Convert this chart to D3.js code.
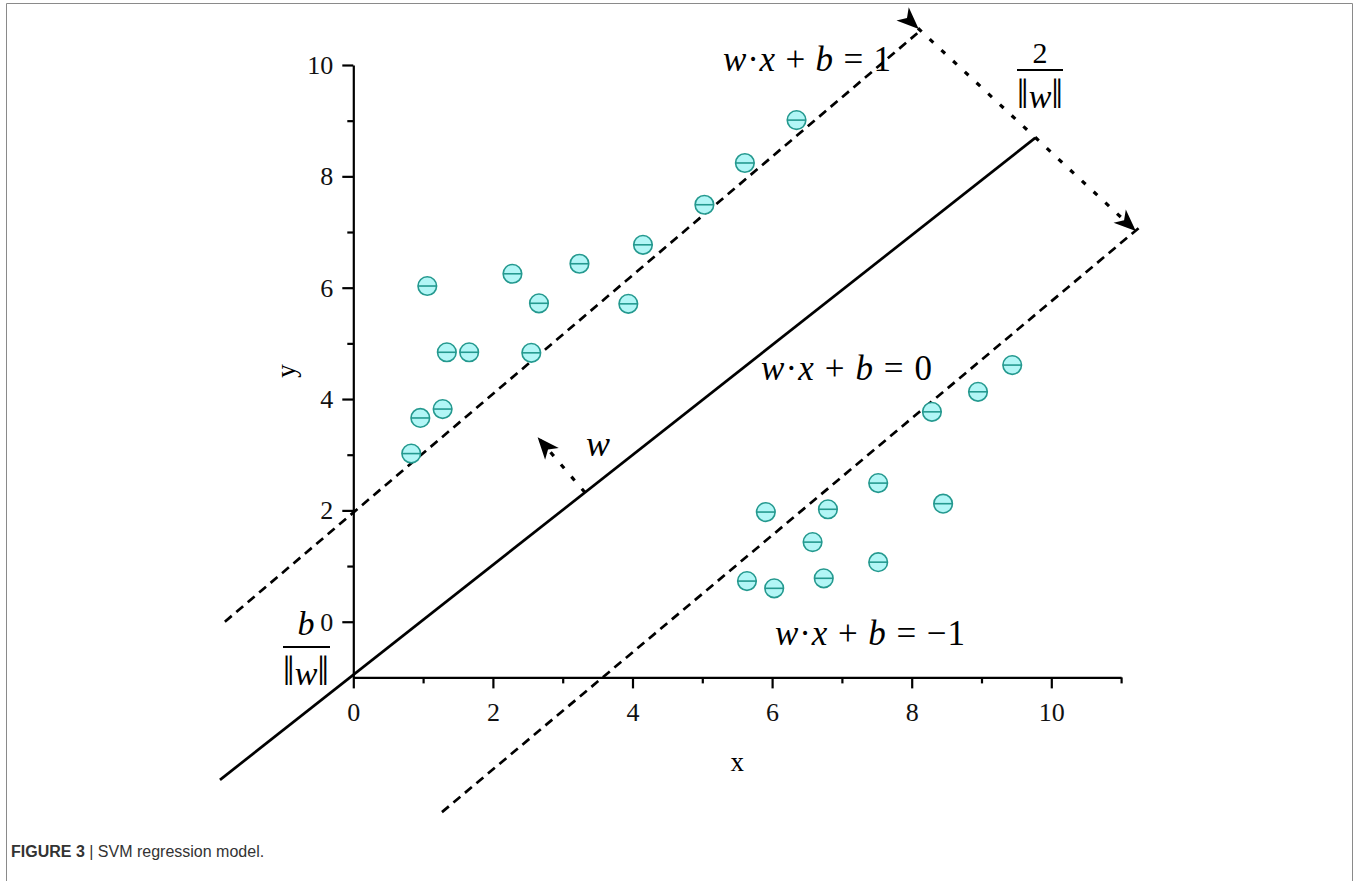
<!DOCTYPE html>
<html>
<head>
<meta charset="utf-8">
<script src="https://cdn.jsdelivr.net/npm/d3@7"></script>
<style>
  body { margin: 0; background: #fff; }
  svg { display: block; }
</style>
</head>
<body>
<script>
// SVM figure: two classes of points and the three hyperplanes

// class +1 (upper left)
var upperX = [0.83, 0.96, 1.28, 1.34, 1.66, 1.06, 2.28, 2.66, 2.55, 3.24, 3.94, 4.15, 5.03, 5.61, 6.35];
var upperY = [3.02, 3.66, 3.82, 4.84, 4.84, 6.03, 6.25, 5.72, 4.83, 6.43, 5.71, 6.77, 7.49, 8.24, 9.01];

// class -1 (lower right)
var lowerX = [5.64, 6.03, 5.91, 6.58, 6.74, 6.80, 7.52, 7.52, 8.45, 8.29, 8.95, 9.44];
var lowerY = [0.73, 0.60, 1.97, 1.43, 0.78, 2.02, 2.49, 1.07, 2.12, 3.77, 4.13, 4.61];

// hyperplanes, endpoints in data units [x0, y0, x1, y1]
var planeMid   = [-1.91, -2.84, 9.77, 8.69];   // w.x+b=0
var planeUpper = [-1.84, 0.0, 8.08, 10.57];    // w.x+b=1
var planeLower = [1.27, -3.42, 11.27, 7.09];   // w.x+b=-1

// arrows [x0, y0, x1, y1]
var marginArrow = [8.09, 10.66, 11.20, 7.03];
var normalArrow = [3.32, 2.32, 2.65, 3.30];

var xMajor = [0, 2, 4, 6, 8, 10];
var xMinor = [1, 3, 5, 7, 9, 11];
var yMajor = [0, 2, 4, 6, 8, 10];
var yMinor = [1, 3, 5, 7, 9];

var W = 1358, H = 881;
var serif = "'Liberation Serif', 'Times New Roman', serif";

var svg = d3.select("body").append("svg")
  .attr("width", W)
  .attr("height", H);

// frame round the figure
svg.append("path")
  .attr("d", "M6.5,900 L6.5,3.5 L1352.5,3.5 L1352.5,900")
  .attr("fill", "none")
  .attr("stroke", "#8a8a8a")
  .attr("stroke-width", 1);

var x = d3.scaleLinear().domain([0, 11]).range([353.3, 1121.1]);
var y = d3.scaleLinear().domain([-1, 10]).range([677.4, 65]);

var defs = svg.append("defs");
defs.append("marker")
  .attr("id", "head")
  .attr("markerUnits", "userSpaceOnUse")
  .attr("viewBox", "-24 -12 26 24")
  .attr("refX", 0).attr("refY", 0)
  .attr("markerWidth", 26).attr("markerHeight", 24)
  .attr("orient", "auto")
  .append("path")
  .attr("d", "M1,0 L-21,-9 L-15,0 L-21,9 Z")
  .attr("fill", "#000");

// axes
svg.append("g")
  .attr("transform", "translate(" + x(0) + ",0)")
  .call(d3.axisLeft(y).tickValues(yMajor).tickSize(11).tickSizeOuter(0).tickPadding(9));
svg.append("g")
  .attr("transform", "translate(" + x(0) + ",0)")
  .call(d3.axisLeft(y).tickValues(yMinor).tickSize(6).tickSizeOuter(0).tickFormat(""))
  .select(".domain").remove();

svg.append("g")
  .attr("transform", "translate(0," + y(-1) + ")")
  .call(d3.axisBottom(x).tickValues(xMajor).tickSize(11).tickSizeOuter(0).tickPadding(14));
svg.append("g")
  .attr("transform", "translate(0," + y(-1) + ")")
  .call(d3.axisBottom(x).tickValues(xMinor).tickSize(6).tickSizeOuter(0).tickFormat(""))
  .select(".domain").remove();

svg.selectAll(".domain, .tick line")
  .attr("stroke", "#000")
  .attr("stroke-width", 2.2);
svg.selectAll(".tick text")
  .attr("font-family", serif)
  .attr("font-size", 26)
  .attr("fill", "#111");

svg.append("text")
  .attr("x", x(5.5)).attr("y", 771)
  .attr("text-anchor", "middle")
  .attr("font-family", serif).attr("font-size", 27)
  .text("x");
svg.append("text")
  .attr("transform", "translate(295,371) rotate(-90)")
  .attr("text-anchor", "middle")
  .attr("font-family", serif).attr("font-size", 27)
  .text("y");

// hyperplanes
function seg(p, dash, width) {
  return svg.append("line")
    .attr("x1", x(p[0])).attr("y1", y(p[1]))
    .attr("x2", x(p[2])).attr("y2", y(p[3]))
    .attr("stroke", "#000")
    .attr("stroke-width", width)
    .attr("stroke-dasharray", dash);
}
seg(planeMid, null, 2.7);
seg(planeUpper, "9,6", 2.7);
seg(planeLower, "9,6", 2.7);
seg(marginArrow, "5,11", 3.2)
  .attr("marker-start", "url(#head)")
  .attr("marker-end", "url(#head)");
seg(normalArrow, "5,11", 3.2)
  .attr("marker-end", "url(#head)");

// points
var pts = upperX.map(function(v, i) { return [v, upperY[i]]; })
  .concat(lowerX.map(function(v, i) { return [v, lowerY[i]]; }));
var g = svg.selectAll("g.pt").data(pts).enter().append("g")
  .attr("class", "pt")
  .attr("transform", function(d) { return "translate(" + x(d[0]) + "," + y(d[1]) + ")"; });
g.append("circle")
  .attr("r", 9.3)
  .attr("fill", "#b2f6f6")
  .attr("stroke", "#24998f")
  .attr("stroke-width", 1.6);
g.append("line")
  .attr("x1", -9.3).attr("x2", 9.3)
  .attr("stroke", "#24998f")
  .attr("stroke-width", 1.6);

// equation labels
function eq(px, py, last, len) {
  var t = svg.append("text")
    .attr("x", px).attr("y", py)
    .attr("font-family", serif).attr("font-size", 35)
    .attr("textLength", len).attr("lengthAdjust", "spacing");
  [["w", 1], ["\u00b7", 0], ["x", 1], [" + ", 0], ["b", 1], [" = ", 0], [last, 0]]
    .forEach(function(p) {
      t.append("tspan").attr("font-style", p[1] ? "italic" : "normal").text(p[0]);
    });
}
eq(723, 71, "1", 168);
eq(761, 380, "0", 171);
eq(775, 645, "\u22121", 190);

function normW(cx, py) {
  var t = svg.append("text")
    .attr("x", cx).attr("y", py)
    .attr("text-anchor", "middle")
    .attr("font-family", serif).attr("font-size", 34);
  t.append("tspan").attr("font-size", 42).text("\u2016");
  t.append("tspan").attr("font-style", "italic").text("w");
  t.append("tspan").attr("font-size", 42).text("\u2016");
}

// 2 / ||w||
svg.append("text")
  .attr("x", 1040).attr("y", 63)
  .attr("text-anchor", "middle")
  .attr("font-family", serif).attr("font-size", 30)
  .text("2");
svg.append("line")
  .attr("x1", 1017).attr("x2", 1063).attr("y1", 70).attr("y2", 70)
  .attr("stroke", "#000").attr("stroke-width", 1.8);
normW(1040, 108);

// b / ||w||
svg.append("text")
  .attr("x", 306).attr("y", 635)
  .attr("text-anchor", "middle")
  .attr("font-family", serif).attr("font-size", 34)
  .attr("font-style", "italic")
  .text("b");
svg.append("line")
  .attr("x1", 283).attr("x2", 330).attr("y1", 647).attr("y2", 647)
  .attr("stroke", "#000").attr("stroke-width", 1.8);
normW(306, 685);

// w next to the normal arrow
svg.append("text")
  .attr("x", 586).attr("y", 456)
  .attr("font-family", serif).attr("font-size", 36)
  .attr("font-style", "italic")
  .text("w");

// caption
var cap = svg.append("text")
  .attr("x", 11).attr("y", 857)
  .attr("font-family", "'Liberation Sans', Arial, sans-serif")
  .attr("font-size", 16)
  .attr("fill", "#333");
cap.append("tspan").attr("font-weight", "bold").text("FIGURE 3");
cap.append("tspan").text(" | SVM regression model.");
</script>
</body>
</html>
